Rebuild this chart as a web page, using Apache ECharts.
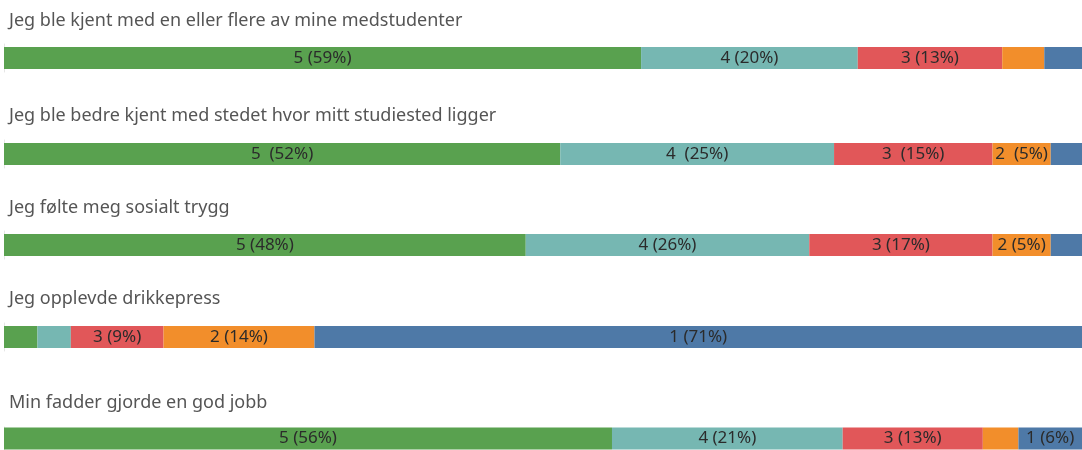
<!DOCTYPE html>
<html>
<head>
<meta charset="utf-8">
<script src="https://cdn.jsdelivr.net/npm/echarts@6/dist/echarts.min.js"></script>
<style>
html,body{margin:0;padding:0;background:#fff;}
#main{width:1082px;height:450px;}
</style>
</head>
<body>
<div id="main"></div>
<script>
// spørsmål (en rad per spørsmål)
var questions = [
	'Jeg ble kjent med en eller flere av mine medstudenter',
	'Jeg ble bedre kjent med stedet hvor mitt studiested ligger',
	'Jeg følte meg sosialt trygg',
	'Jeg opplevde drikkepress',
	'Min fadder gjorde en god jobb'
];
// svar 5..1, prosent av svarene
var scores = ['5', '4', '3', '2', '1'];
var s5 = [59.1, 51.6, 48.4, 3.1, 56.4];
var s4 = [20.1, 25.4, 26.3, 3.1, 21.4];
var s3 = [13.4, 14.7, 17.0, 8.6, 13.0];
var s2 = [3.9, 5.4, 5.4, 14.0, 3.3];
var s1 = [3.5, 2.9, 2.9, 71.2, 5.9];
var labelSep = [' ', '  ', ' ', ' ', ' '];

var colors = ['#59A14F', '#76B7B2', '#E15759', '#F28E2B', '#4E79A7'];
var barTops = [47, 143, 234, 326, 430];
var titleTops = [12, 107, 199, 290, 394];
var font = 'Noto Sans';

var myChart = echarts.init(document.getElementById('main'));
var allSeries = [s5, s4, s3, s2, s1];
var grids = [], xAxes = [], yAxes = [], series = [], titles = [];

for (var i = 0; i < questions.length; i++) {
	titles.push({
		text: questions[i],
		left: 9,
		top: titleTops[i],
		padding: 0,
		textStyle: {fontFamily: font, fontSize: 18, fontWeight: 'normal', color: '#555'}
	});
	grids.push({left: 4, right: 0, top: barTops[i] - 3, height: 28});
	xAxes.push({type: 'value', gridIndex: i, min: 0, max: 100, show: false});
	yAxes.push({
		type: 'category', gridIndex: i, data: [questions[i]],
		axisLine: {show: true, lineStyle: {color: '#e6e6e6', width: 1}},
		axisTick: {show: false}, axisLabel: {show: false}
	});
	for (var k = 0; k < scores.length; k++) {
		(function(row, idx){
			series.push({
				type: 'bar',
				name: scores[idx],
				xAxisIndex: row,
				yAxisIndex: row,
				stack: 'rad' + row,
				barWidth: 22,
				itemStyle: {color: colors[idx]},
				label: {
					show: true,
					position: 'inside',
					color: '#2b2b2b',
					fontFamily: font,
					fontSize: 17,
					formatter: function(p){
						if (p.value < 5) return '';
						return scores[idx] + labelSep[row] + '(' + Math.round(p.value) + '%)';
					}
				},
				silent: true,
				data: [allSeries[idx][row]]
			});
		})(i, k);
	}
}

myChart.setOption({
	animation: false,
	title: titles,
	grid: grids,
	xAxis: xAxes,
	yAxis: yAxes,
	series: series
});
</script>
</body>
</html>
